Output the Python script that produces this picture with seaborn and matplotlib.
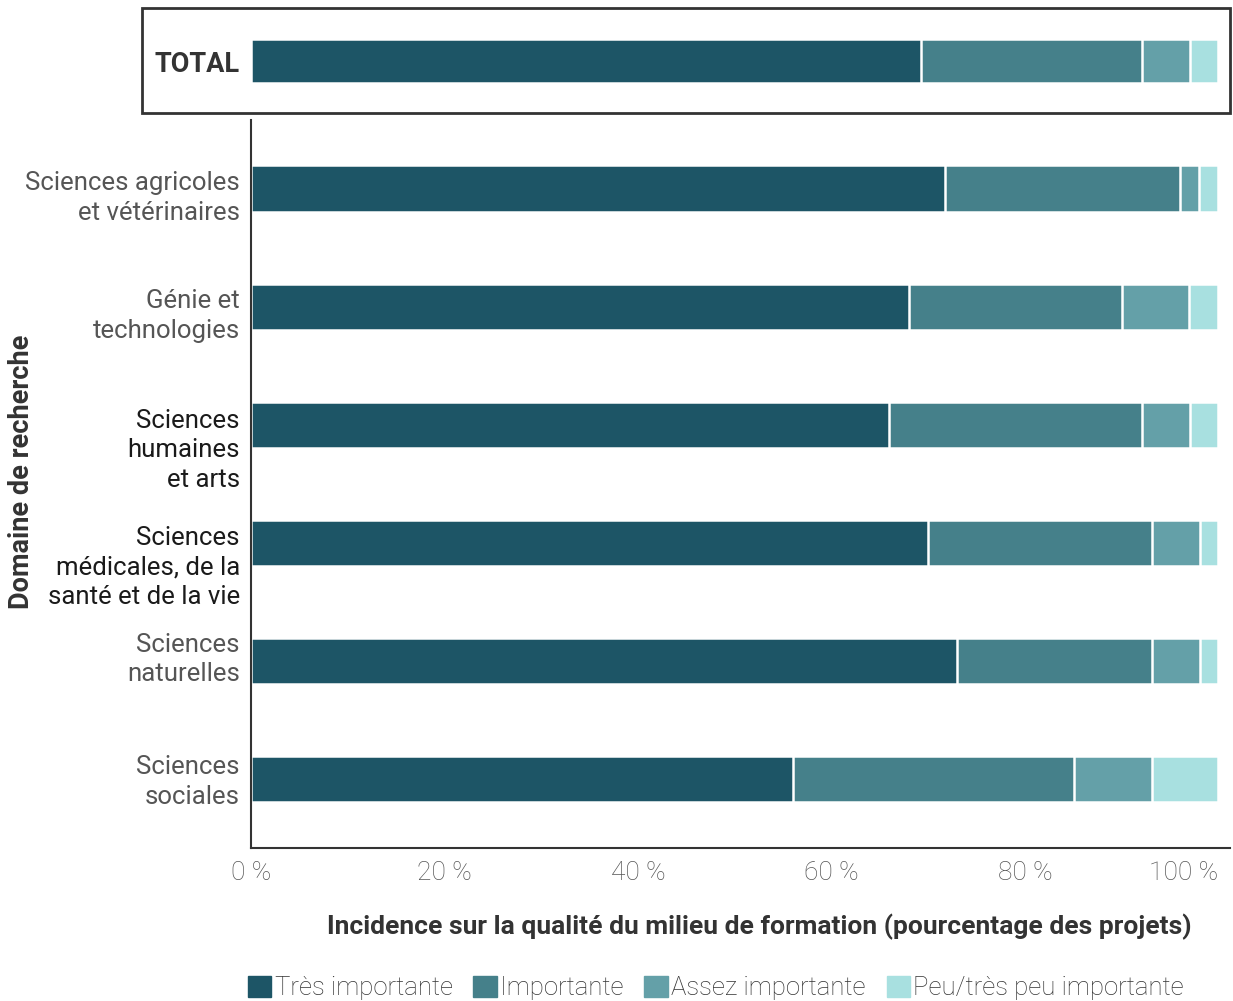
import matplotlib
matplotlib.use('Agg')
import matplotlib.pyplot as plt
import matplotlib.transforms as mtransforms
import numpy as np
import pandas as pd
import seaborn as sns
from matplotlib.patches import Rectangle

domains = ['Sciences agricoles\net vétérinaires', 'Génie et\ntechnologies',
           'Sciences\nhumaines\net arts', 'Sciences\nmédicales, de la\nsanté et de la vie',
           'Sciences\nnaturelles', 'Sciences\nsociales']
label_colors = ['#555555', '#555555', '#1a1a1a', '#1a1a1a', '#555555', '#555555']
label_shift = [4, 4, 20, 19, -7, -3]  # px downward, as in the source layout
levels = ['Très importante', 'Importante', 'Assez importante', 'Peu/très peu importante']
colors = ['#1d5566', '#45808a', '#64a0a8', '#a8e0e0']

tres = [71.7, 68.0, 66.0, 70.0, 73.0, 56.0]
important = [24.3, 22.0, 26.1, 23.1, 20.1, 29.1]
assez = [2.0, 7.0, 5.0, 5.0, 5.0, 8.0]
peu = [2.0, 3.0, 2.9, 1.9, 1.9, 6.9]

total_values = [69.3, 22.8, 5.0, 2.9]

sns.set_theme(style='white')
plt.rcParams['font.family'] = ['Roboto', 'DejaVu Sans']

fig = plt.figure(figsize=(12.33, 10.01), dpi=100)
W, H = 1233, 1001


def fig_axes(x0, y0, x1, y1):
    return fig.add_axes([x0 / W, 1 - y1 / H, (x1 - x0) / W, (y1 - y0) / H])


def stacked(ax, cats, series, height):
    df = pd.DataFrame(np.array(series).T, index=cats, columns=levels)
    cum = df.cumsum(axis=1)
    for lvl, col in reversed(list(zip(levels, colors))):
        sns.barplot(x=cum[lvl].values, y=cats, orient='h', color=col, width=height,
                    edgecolor='white', linewidth=1.8, ax=ax, saturation=1)


# main chart
ax = fig_axes(251, 120, 1230, 848)
stacked(ax, domains, [tres, important, assez, peu], 0.39)
ax.set_xlim(0, 101.2)
ax.set_ylim(5.58, -0.58)
ax.set_xticks([0, 20, 40, 60, 80, 100])
ax.set_xticklabels(['0 %', '20 %', '40 %', '60 %', '80 %', '100 %'],
                   fontsize=19, color='#555555', fontweight='light')
ax.get_xticklabels()[-1].set_ha('right')
ax.tick_params(axis='x', length=0, pad=9)
ax.tick_params(axis='y', length=0, pad=8)
ax.set_yticks(range(len(domains)))
ax.set_yticklabels(domains, fontsize=18.5, fontweight='normal', linespacing=1.3)
for t, c, dy in zip(ax.get_yticklabels(), label_colors, label_shift):
    t.set_color(c)
    t.set_transform(t.get_transform() + mtransforms.ScaledTranslation(0, -dy / 100, fig.dpi_scale_trans))
for s in ['top', 'right']:
    ax.spines[s].set_visible(False)
for s in ['left', 'bottom']:
    ax.spines[s].set_color('#333333')
    ax.spines[s].set_linewidth(1.5)
ax.set_xlabel('')
ax.set_ylabel('')

# TOTAL row
ax_t = fig_axes(251, 14, 1230, 108)
stacked(ax_t, ['TOTAL'], [[v] for v in total_values], 0.46)
ax_t.set_xlim(0, 101.2)
ax_t.set_ylim(0.5, -0.5)
ax_t.set_xticks([])
ax_t.tick_params(axis='y', length=0, pad=8)
ax_t.set_yticklabels(['TOTAL'], fontsize=19.5, fontweight='bold', color='#333333')
for s in ax_t.spines.values():
    s.set_visible(False)
ax_t.set_xlabel('')
ax_t.set_ylabel('')
fig.patches.append(Rectangle((142 / W, 1 - 113 / H), (1230 - 142) / W, (113 - 8) / H,
                             transform=fig.transFigure, fill=False,
                             edgecolor='#333333', linewidth=2))

fig.text(759 / W, 1 - 927 / H, 'Incidence sur la qualité du milieu de formation (pourcentage des projets)',
         ha='center', va='center', fontsize=19, fontweight='bold', color='#333333')
fig.text(22 / W, 1 - 472 / H, 'Domaine de recherche', rotation=90, ha='center', va='center',
         fontsize=19.5, fontweight='bold', color='#333333')

handles = [Rectangle((0, 0), 1, 1, color=c) for c in colors]
fig.legend(handles, levels, loc='center', bbox_to_anchor=(716 / W, 1 - 988 / H), ncol=4,
           frameon=False, handlelength=0.9, handleheight=0.9,
           handletextpad=0.15, columnspacing=0.8,
           prop={'weight': 'light', 'size': 18.5})
for t in fig.legends[0].get_texts():
    t.set_color('#333333')

fig.savefig('out.png', dpi=100)
